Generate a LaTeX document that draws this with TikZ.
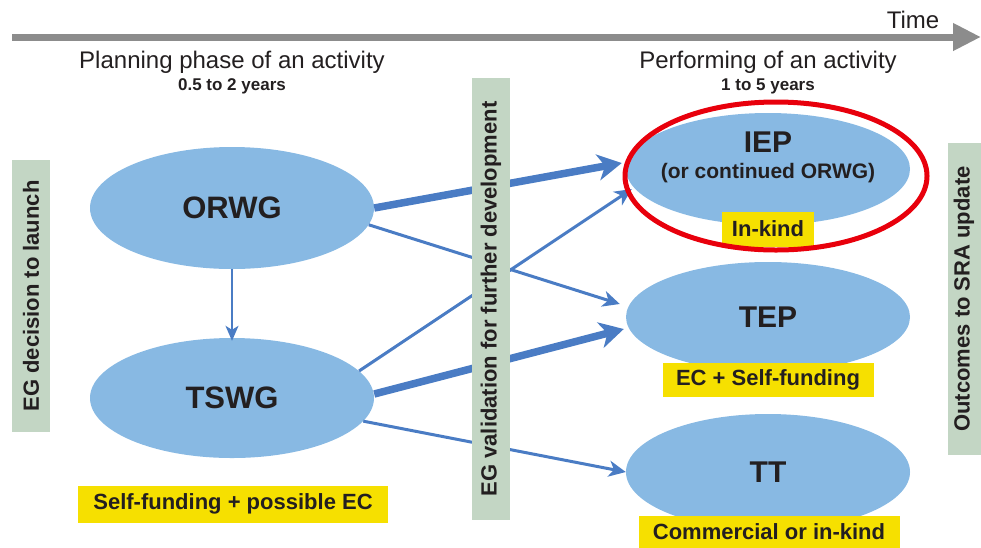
\documentclass[tikz,border=0pt]{standalone}
\usepackage{fontspec}
\setmainfont{Liberation Sans}
\usepackage{tikz}
\usetikzlibrary{arrows.meta,shapes.geometric}
\definecolor{blobfill}{RGB}{136,185,227}
\definecolor{flowblue}{RGB}{74,124,196}
\definecolor{gatefill}{RGB}{195,214,196}
\definecolor{fundfill}{RGB}{246,224,0}
\definecolor{timegray}{RGB}{140,140,140}
\definecolor{ringred}{RGB}{232,0,12}
\definecolor{ink}{RGB}{35,31,32}
\def\fs#1{\fontsize{#1}{#1}\selectfont}

\begin{document}
\begin{tikzpicture}[x=1pt,y=-1pt,
    blob/.style={ellipse, fill=blobfill, minimum width=284pt, inner sep=0pt},
    fund/.style={fill=fundfill, inner sep=0pt, text=ink, font=\fs{22}\bfseries},
    gate/.style={fill=gatefill, rotate=90, inner sep=0pt, text=ink, font=\fs{22}\bfseries},
    flowthin/.style={draw=flowblue, line width=3pt, -{Stealth[length=17pt,width=16pt,inset=5pt]}},
    flowthick/.style={draw=flowblue, line width=7.5pt, -{Stealth[length=24pt,width=26pt,inset=7pt]}}]
			%%%%% START %%%%%
			\useasboundingbox (0,0) rectangle (981,547);
			
			% time axis
			\coordinate (tstart) at (12,37);
			\coordinate (tend) at (981,37);
			\draw[timegray, line width=7pt, -{Triangle[length=28pt,width=26pt]}] (tstart) -- (tend);
			\node[text=ink, font=\fs{24}] (time) at (913,20) {Time};
			
			\node[text=ink, font=\fs{24}] (planhead) at (232,62) {Planning phase of an activity};
			\node[text=ink, font=\fs{17}\bfseries] (planspan) at (232,86) {0.5 to 2 years};
			\node[text=ink, font=\fs{24}] (perfhead) at (768,62) {Performing of an activity};
			\node[text=ink, font=\fs{17}\bfseries] (perfspan) at (768,86) {1 to 5 years};
			
			% working groups
			\node[blob, minimum height=122pt, text=ink, font=\fs{31}\bfseries] (orwg) at (232,208) {ORWG};
			\node[blob, minimum height=120pt, text=ink, font=\fs{31}\bfseries] (tswg) at (232,398) {TSWG};
			\node[fund, minimum width=310pt, minimum height=37pt] (selffund) at (233,504) {Self-funding + possible EC};
			
			\node[blob, minimum height=112pt] (iep) at (768,169) {};
			\node[text=ink, font=\fs{30}\bfseries] (ieptitle) at (768,142) {IEP};
			\node[text=ink, font=\fs{21}\bfseries] (iepnote) at (768,173) {(or continued ORWG)};
			\node[fund, minimum width=92pt, minimum height=35pt] (inkind) at (768,229) {In-kind};
			
			\node[blob, minimum height=110pt, text=ink, font=\fs{30}\bfseries] (tep) at (768,317) {TEP};
			\node[fund, minimum width=211pt, minimum height=34pt] (ecself) at (768,380) {EC + Self-funding};
			
			\node[blob, minimum height=116pt, text=ink, font=\fs{30}\bfseries] (tt) at (768,472) {TT};
			\node[fund, minimum width=261pt, minimum height=32pt] (commercial) at (769,532) {Commercial or in-kind};
			
			% transitions
			\draw[draw=flowblue, line width=1.6pt, -{Stealth[length=15pt,width=13pt,inset=4pt]}] (orwg.south) -- ([yshift=-3pt]tswg.north);
			\draw[flowthick] (orwg.east) -- ([xshift=-4pt,yshift=6pt]iep.west);
			\draw[flowthin] (orwg.-7) -- ([xshift=-6pt,yshift=13pt]tep.west);
			\draw[flowthin] (tswg.12) -- ([xshift=6pt,yshift=-20pt]iep.west);
			\draw[flowthick] ([yshift=4pt]tswg.east) -- ([xshift=-2pt,yshift=-12pt]tep.west);
			\draw[flowthin] (tswg.-10) -- (tt.west);
			
			% decision gates
			\node[gate, minimum width=272pt, minimum height=38pt] (launch) at (31,296) {EG decision to launch};
			\node[gate, minimum width=442pt, minimum height=38pt] (validate) at (491,299) {EG validation for further development};
			\node[gate, minimum width=312pt, minimum height=33pt] (outcome) at (964,299) {Outcomes to SRA update};
			
			% highlight
			\node[ellipse, draw=ringred, line width=5pt, minimum width=302pt, minimum height=148pt] (ring) at (776,176) {};
			%%%%% END %%%%%
\end{tikzpicture}
\end{document}
